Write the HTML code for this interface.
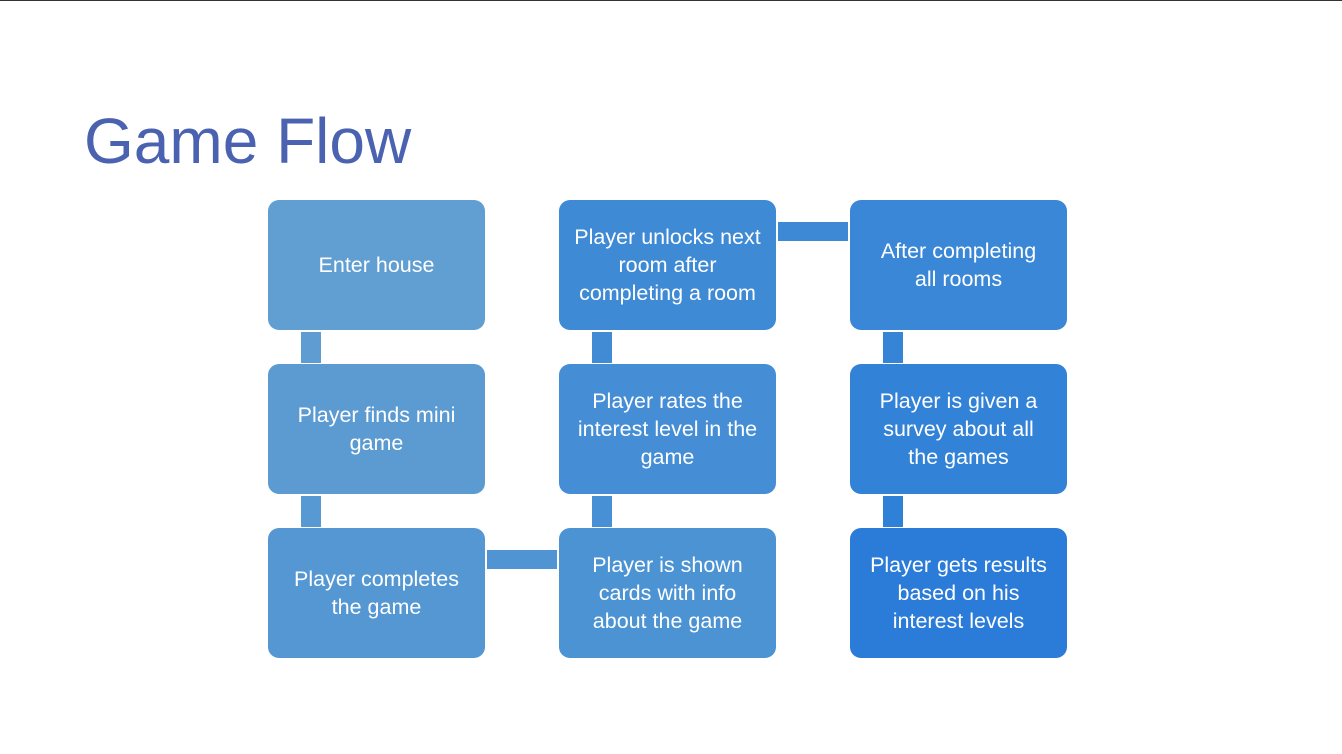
<!DOCTYPE html>
<html><head><style>
body{margin:0;width:1342px;height:754px;background:#fff;position:relative;overflow:hidden;font-family:"Liberation Sans",sans-serif}
.top{position:absolute;left:0;top:0;width:1342px;height:1px;background:#333}
h1{position:absolute;left:84px;top:104px;margin:0;font-weight:normal;font-size:64px;color:#4a62b0;letter-spacing:0}
.b{position:absolute;width:217px;height:130px;border-radius:11px;color:#fff;font-size:21.5px;line-height:28px;display:flex;align-items:center;justify-content:center;text-align:center;box-sizing:border-box;white-space:nowrap}
.c{position:absolute}
</style></head><body>
<div class="top"></div>
<h1>Game Flow</h1>
<div class="c" style="left:301px;top:332px;width:20px;height:31px;background:#5e9cd2"></div>
<div class="c" style="left:301px;top:496px;width:20px;height:31px;background:#5799d3"></div>
<div class="c" style="left:487px;top:550px;width:70px;height:19px;background:#5094d4"></div>
<div class="c" style="left:592px;top:496px;width:20px;height:31px;background:#4890d5"></div>
<div class="c" style="left:592px;top:332px;width:20px;height:31px;background:#418bd5"></div>
<div class="c" style="left:778px;top:222px;width:70px;height:19px;background:#3d89d6"></div>
<div class="c" style="left:883px;top:332px;width:20px;height:31px;background:#3584d6"></div>
<div class="c" style="left:883px;top:496px;width:20px;height:31px;background:#2f80d7"></div>

<div class="b" style="left:268px;top:200px;background:#619ed1">Enter house</div>
<div class="b" style="left:268px;top:364px;background:#5b9bd2">Player finds mini<br>game</div>
<div class="b" style="left:268px;top:528px;background:#5497d3">Player completes<br>the game</div>
<div class="b" style="left:559px;top:528px;background:#4c93d4">Player is shown<br>cards with info<br>about the game</div>
<div class="b" style="left:559px;top:364px;background:#458ed5">Player rates the<br>interest level in the<br>game</div>
<div class="b" style="left:559px;top:200px;background:#3f8ad5">Player unlocks next<br>room after<br>completing a room</div>
<div class="b" style="left:850px;top:200px;background:#3987d6">After completing<br>all rooms</div>
<div class="b" style="left:850px;top:364px;background:#3282d7">Player is given a<br>survey about all<br>the games</div>
<div class="b" style="left:850px;top:528px;background:#2b7cd8">Player gets results<br>based on his<br>interest levels</div>
</body></html>
